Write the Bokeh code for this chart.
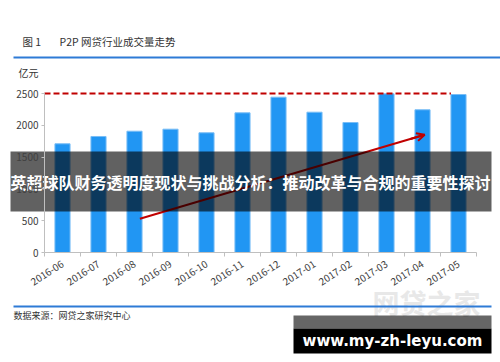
import math
from bokeh.plotting import figure
from bokeh.models import Range1d, FixedTicker, LinearAxis, Arrow, OpenHead
from bokeh.core.properties import value
from bokeh.embed import file_html
from bokeh.resources import INLINE

# ---------------- data ----------------
months = ["2016-06", "2016-07", "2016-08", "2016-09", "2016-10", "2016-11",
          "2016-12", "2017-01", "2017-02", "2017-03", "2017-04", "2017-05"]
volume = [1709, 1824, 1907, 1939, 1882, 2196, 2442, 2206, 2044, 2495, 2244, 2484]
y_ticks = [0, 500, 1000, 1500, 2000, 2500]
target_level = 2500
trend_start = (2.65, 530)
trend_end = (10.56, 1851)

title_num = "图 1"
title_text = "P2P 网贷行业成交量走势"
unit_text = "亿元"
source_text = "数据来源：网贷之家研究中心"
banner_text = "英超球队财务透明度现状与挑战分析：推动改革与合规的重要性探讨"
site_text = "www.my-zh-leyu.com"
wm_text = "网贷之家"

CJK = "Noto Sans CJK SC"

# ---------------- geometry (canvas = whole page) ----------------
W, H = 500, 362
n = len(months)
AX_X = 44.0          # page x of category 0 edge (y axis)
AX_Y = 252.0         # page y of value 0 (x axis)
PX_PER_CAT = 36.0
PX_PER_VAL = 159.0 / 2500.0

x_start = -AX_X / PX_PER_CAT
x_end = (W - AX_X) / PX_PER_CAT
y_start = -(H - AX_Y) / PX_PER_VAL
y_end = AX_Y / PX_PER_VAL

p = figure(width=W, height=H, output_backend="svg", toolbar_location=None,
           x_range=Range1d(x_start, x_end), y_range=Range1d(y_start, y_end),
           x_axis_location=None, y_axis_location=None, min_border=0)
p.outline_line_color = None
p.xgrid.visible = False
p.ygrid.visible = False
p.background_fill_color = "white"
p.border_fill_color = "white"

def dx(px):
    return (px - AX_X) / PX_PER_CAT
def dy(py):
    return (AX_Y - py) / PX_PER_VAL

centers = [i + 0.5 for i in range(n)]
bar_w = 0.42

def text(txt, px, py, size, color="#333333", align="left", style="normal", font=CJK):
    p.text(x=[dx(px)], y=[dy(py)], text=[txt], text_font=value(font),
           text_font_size=size, text_color=color, text_align=align,
           text_baseline="middle", text_font_style=style)

def box(l, r, t, b, color, alpha=1.0):
    p.quad(left=[dx(l)], right=[dx(r)], top=[dy(t)], bottom=[dy(b)],
           fill_color=color, fill_alpha=alpha, line_color=None)

# faint watermark (behind everything)
text(wm_text, 426, 302, "27px", "#e8e8e8", align="center", style="bold")

# bars
p.vbar(x=centers, top=volume, width=bar_w, fill_color="#2196f3",
       line_color="#78bdf6", line_width=1)

# target dashed line, to the left edge of the last bar
p.line([0, centers[-1] - bar_w / 2], [target_level, target_level],
       line_color="#c00000", line_width=2, line_dash="6 3")

# trend arrow shaft (glyph, so the banner darkens it)
p.segment(x0=[trend_start[0]], y0=[trend_start[1]],
          x1=[trend_end[0]], y1=[trend_end[1]],
          line_color="#c00000", line_width=2)

# axes drawn at fixed locations inside the full-canvas frame
xa = LinearAxis(fixed_location=0, bounds=(0, n))
xa.ticker = FixedTicker(ticks=centers, minor_ticks=list(range(n + 1)))
xa.major_label_overrides = {c: m for c, m in zip(centers, months)}
xa.major_tick_line_color = None
xa.minor_tick_line_color = "#bfbfbf"
xa.minor_tick_in = 0
xa.minor_tick_out = 4
xa.axis_line_color = "#bfbfbf"
xa.major_label_orientation = math.radians(33)
xa.major_label_text_font = CJK
xa.major_label_text_font_size = "10px"
xa.major_label_text_color = "#404040"
xa.major_label_standoff = 4
p.add_layout(xa, "below")

ya = LinearAxis(fixed_location=0, bounds=(0, y_ticks[-1]))
ya.ticker = FixedTicker(ticks=y_ticks)
ya.minor_tick_line_color = None
ya.major_tick_line_color = "#bfbfbf"
ya.major_tick_in = 0
ya.major_tick_out = 3
ya.axis_line_color = "#bfbfbf"
ya.major_label_text_font = CJK
ya.major_label_text_font_size = "10px"
ya.major_label_text_color = "#404040"
ya.major_label_standoff = 3
p.add_layout(ya, "left")

# header / footer
text(title_num, 22, 41, "10.5px")
text(title_text, 59, 41, "10.5px")
box(13, 500, 56, 58, "#2e7bd6")
text(unit_text, 18, 72, "10px")
box(13, 491, 305, 307, "#2e7bd6")
text(source_text, 13, 315, "9px")

# overlay banner
box(10, 491, 151, 211, "black", 0.62)
text(banner_text, 250, 181, "16px", "white", align="center", style="bold")

# arrow head only (annotation, sits above the banner region anyway)
hx = trend_start[0] + 0.95 * (trend_end[0] - trend_start[0])
hy = trend_start[1] + 0.95 * (trend_end[1] - trend_start[1])
p.add_layout(Arrow(end=OpenHead(size=8, line_color="#c00000", line_width=2),
                   x_start=hx, y_start=hy,
                   x_end=trend_end[0], y_end=trend_end[1],
                   line_color="#c00000", line_width=2))

# site watermark
box(293, 491, 315, 328, "black", 0.6)
box(293, 491, 328, 353, "black", 1.0)
text(site_text, 392, 340, "15px", "white", align="center", style="bold", font="DejaVu Sans")

open("out.html", "w").write(file_html(p, INLINE))
